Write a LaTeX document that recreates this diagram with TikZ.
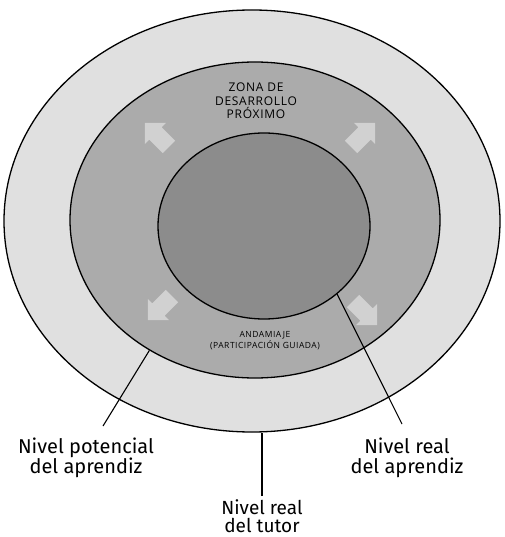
\documentclass[tikz,border=0pt]{standalone}
\usepackage{fontspec}
\setmainfont{Open Sans}
\newfontfamily\lblfont{Fira Sans}
\newfontfamily\capsfont[LetterSpace=6]{Open Sans}
\usetikzlibrary{shapes.geometric,shapes.arrows}
\definecolor{outerc}{gray}{0.88}
\definecolor{midc}{gray}{0.67}
\definecolor{innc}{gray}{0.55}
\definecolor{arrc}{gray}{0.82}
\tikzset{
  ring/.style={ellipse, draw=black, line width=1.3pt, inner sep=0pt},
  blk/.style={single arrow, fill=arrc, draw=none, minimum height=34pt, minimum width=30pt, single arrow head extend=3pt, inner sep=4pt},
  lbl/.style={font=\lblfont\fontsize{20}{20}\selectfont, align=center, inner sep=0pt},
  lead/.style={line width=1.1pt},
  zone/.style={font=\capsfont\fontsize{12}{13.5}\selectfont, align=center, inner sep=0pt}
}
\begin{document}
\begin{tikzpicture}[x=1pt,y=-1pt]
\useasboundingbox (0,0) rectangle (504,537);
\fill[white] (0,0) rectangle (504,537);
\node[ring, fill=outerc, minimum width=496pt, minimum height=422pt] (outer) at (252,221) {};
\node[ring, fill=midc, minimum width=370pt, minimum height=316pt] (mid) at (255,220) {};
\node[ring, fill=innc, minimum width=212pt, minimum height=186pt] (inn) at (264,226) {};
\node[blk, rotate=135] (a1) at (160,138) {};
\node[blk, rotate=45] (a2) at (360,138) {};
\node[blk, rotate=225] (a3) at (163,305) {};
\node[blk, rotate=315] (a4) at (362,310) {};
\node[zone] (zpd) at (256,101) {ZONA DE\\DESARROLLO\\PRÓXIMO};
\node[zone, font=\capsfont\fontsize{8.5}{11}\selectfont] (and) at (265,341) {ANDAMIAJE\\(PARTICIPACIÓN GUIADA)};
\node[lbl] (lp) at (86,458) {Nivel potencial\\del aprendiz};
\node[lbl] (lr) at (407,458) {Nivel real\\del aprendiz};
\node[lbl, font=\lblfont\fontsize{19}{18}\selectfont] (lt) at (262,516) {Nivel real\\del tutor};
\coordinate (lpe) at (103,426);
\coordinate (lre) at (402,424);
\coordinate (lte) at (262,496);
\draw[lead] (lpe) -- (mid.231);
\draw[lead] (lre) -- (inn.317);
\draw[lead] (lte) -- (lte |- outer.south);
\end{tikzpicture}
\end{document}
